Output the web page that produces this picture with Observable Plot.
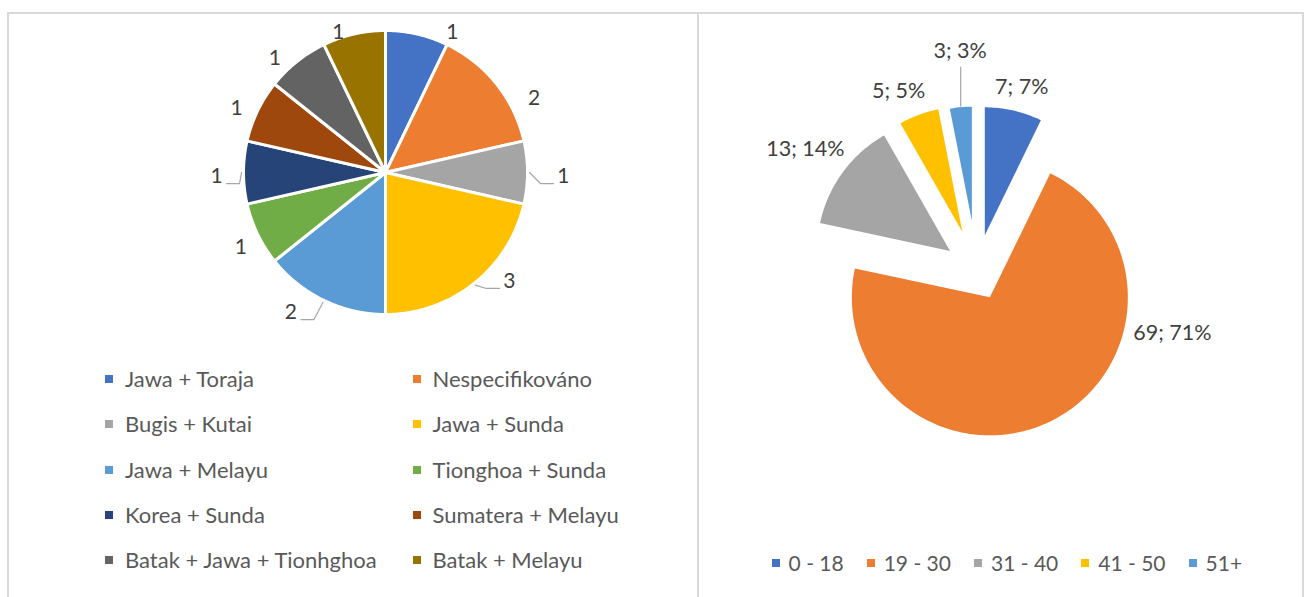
<!DOCTYPE html>
<html>
<head>
<meta charset="utf-8">
<script src="https://cdn.jsdelivr.net/npm/d3@7"></script>
<script src="https://cdn.jsdelivr.net/npm/@observablehq/plot@0.6"></script>
<style>
  html, body { margin: 0; padding: 0; background: #fff; }
  #page { position: relative; width: 1309px; height: 597px; overflow: hidden; background: #fff; font-family: Lato, "Open Sans", sans-serif; }
  .panel { position: absolute; box-sizing: border-box; border: 2px solid #d9d9d9; border-bottom: none; }
  #chart { position: absolute; left: 0; top: 0; }
  .legend { position: absolute; color: #595959; line-height: 1; }
  .item { display: flex; align-items: center; white-space: nowrap; }
  .sw { display: inline-block; width: 8px; height: 8px; flex: none; }
  #legendLeft { left: 105px; top: 356.4px; font-size: 22px; display: grid; grid-template-columns: 307.5px auto; grid-auto-rows: 45.25px; }
  #legendLeft .sw { margin-right: 12px; }
  #legendRight { left: 771.6px; top: 552px; font-size: 21px; display: flex; }
  #legendRight .sw { margin-right: 9px; }
  #legendRight .item { margin-right: 23px; }
</style>
</head>
<body>
<div id="page">
  <div class="panel" style="left:7px;top:12px;width:692px;height:620px"></div>
  <div class="panel" style="left:699px;top:12px;width:605px;height:620px;border-left:none"></div>
  <div id="chart"></div>
  <div id="legendLeft" class="legend"></div>
  <div id="legendRight" class="legend"></div>
</div>
<script>
// ---------- data ----------
const ethnicLabels = ["Jawa + Toraja", "Nespecifikováno", "Bugis + Kutai", "Jawa + Sunda", "Jawa + Melayu",
  "Tionghoa + Sunda", "Korea + Sunda", "Sumatera + Melayu", "Batak + Jawa + Tionhghoa", "Batak + Melayu"];
const ethnicCounts = [1, 2, 1, 3, 2, 1, 1, 1, 1, 1];
const ethnicColors = ["#4472C4", "#ED7D31", "#A5A5A5", "#FFC000", "#5B9BD5", "#70AD47", "#264478", "#9E480E", "#636363", "#997300"];

const ageGroups = ["0 - 18", "19 - 30", "31 - 40", "41 - 50", "51+"];
const ageCounts = [7, 69, 13, 5, 3];
const agePercents = [7, 71, 14, 5, 3];
const ageColors = ["#4472C4", "#ED7D31", "#A5A5A5", "#FFC000", "#5B9BD5"];

// ---------- layout (not data) ----------
const W = 1309, H = 460;
const left = {cx: 385, cy: 172, r: 142};
// label placement: [angle shift from slice middle (deg), distance beyond radius]
const leftLabelPlace = [[12.7, 13], [12.1, 24], [1.3, 36], [-10.1, 23], [8.3, 27], [-1.7, 21], [-1.4, 27], [-2.5, 20], [-5.5, 17], [-5.7, 6]];
const leftLeader = [false, false, true, true, true, false, true, false, false, false];
const right = {cx: 976.2, cy: 269.9};
// explode distance and slice radius per slice
const rightExplode = [36, 30, 33, 41, 50];
const rightRadius = [128, 138, 133, 125, 114];
const rightLabelPlace = [[1, 25], [-53, 48], [-1, 44], [-3.9, 30], [1.6, 56]];
const rightLeader = [false, false, false, false, true];

const rad = a => a * Math.PI / 180;
const pol = (cx, cy, r, a) => [cx + r * Math.sin(a), cy - r * Math.cos(a)];

function wedge(key, color, cx, cy, r, a0, a1) {
  const pts = [{key, color, x: cx, y: cy}];
  const n = Math.max(2, Math.ceil((a1 - a0) / rad(1)));
  for (let i = 0; i <= n; i++) {
    const [x, y] = pol(cx, cy, r, a0 + (a1 - a0) * i / n);
    pts.push({key, color, x, y});
  }
  return pts;
}

const pie = d3.pie().sort(null).value(d => d);

// left pie
const leftArcs = pie(ethnicCounts);
const leftSlices = leftArcs.flatMap((a, i) => wedge("L" + i, ethnicColors[i], left.cx, left.cy, left.r, a.startAngle, a.endAngle));
const leftLabels = [], leaders = [];
leftArcs.forEach((a, i) => {
  const mid = (a.startAngle + a.endAngle) / 2;
  const [sh, ex] = leftLabelPlace[i];
  const [x, y] = pol(left.cx, left.cy, left.r + ex, mid + rad(sh));
  leftLabels.push({x, y, text: String(ethnicCounts[i])});
  if (leftLeader[i]) {
    const [sx, sy] = pol(left.cx, left.cy, left.r + 2, mid);
    const side = x > left.cx ? -1 : 1;
    const ex2 = x + side * 10, ey = y + 7;
    leaders.push({key: "l" + i, x: sx, y: sy}, {key: "l" + i, x: ex2 + side * 13, y: ey}, {key: "l" + i, x: ex2, y: ey});
  }
});

// right pie (exploded)
const rightArcs = pie(ageCounts);
const rightSlices = [], rightLabels = [];
rightArcs.forEach((a, i) => {
  const mid = (a.startAngle + a.endAngle) / 2;
  const [ax, ay] = pol(right.cx, right.cy, rightExplode[i], mid);
  rightSlices.push(...wedge("R" + i, ageColors[i], ax, ay, rightRadius[i], a.startAngle, a.endAngle));
  const [sh, ex] = rightLabelPlace[i];
  const [x, y] = pol(ax, ay, rightRadius[i] + ex, mid + rad(sh));
  rightLabels.push({x, y, text: `${ageCounts[i]}; ${agePercents[i]}%`});
  if (rightLeader[i]) {
    const [sx, sy] = pol(ax, ay, rightRadius[i] + 1, mid);
    leaders.push({key: "r" + i, x: sx, y: sy}, {key: "r" + i, x: sx, y: y + 16});
  }
});

const chart = Plot.plot({
  width: W, height: H, margin: 0,
  x: {domain: [0, W], range: [0, W], axis: null},
  y: {domain: [0, H], range: [0, H], axis: null},
  color: {type: "identity"},
  style: {background: "transparent", fontFamily: "Lato, 'Open Sans', sans-serif", overflow: "visible"},
  marks: [
    Plot.line(leftSlices, {x: "x", y: "y", z: "key", fill: "color", stroke: "white", strokeWidth: 3, strokeLinejoin: "round", curve: "linear-closed"}),
    Plot.line(rightSlices, {x: "x", y: "y", z: "key", fill: "color", stroke: "none", curve: "linear-closed"}),
    Plot.line(leaders, {x: "x", y: "y", z: "key", stroke: "#a6a6a6", strokeWidth: 1.2, fill: "none", strokeLinejoin: "miter"}),
    Plot.text(leftLabels, {x: "x", y: "y", text: "text", fontSize: 21, fill: "#404040"}),
    Plot.text(rightLabels, {x: "x", y: "y", text: "text", fontSize: 21.5, fill: "#404040"})
  ]
});
document.getElementById("chart").appendChild(chart);

// legends
const ll = document.getElementById("legendLeft");
ethnicLabels.forEach((name, i) => {
  const it = document.createElement("div");
  it.className = "item";
  it.innerHTML = `<span class="sw" style="background:${ethnicColors[i]}"></span><span>${name}</span>`;
  ll.appendChild(it);
});
const lr = document.getElementById("legendRight");
ageGroups.forEach((name, i) => {
  const it = document.createElement("div");
  it.className = "item";
  it.innerHTML = `<span class="sw" style="background:${ageColors[i]}"></span><span>${name}</span>`;
  lr.appendChild(it);
});
</script>
</body>
</html>
